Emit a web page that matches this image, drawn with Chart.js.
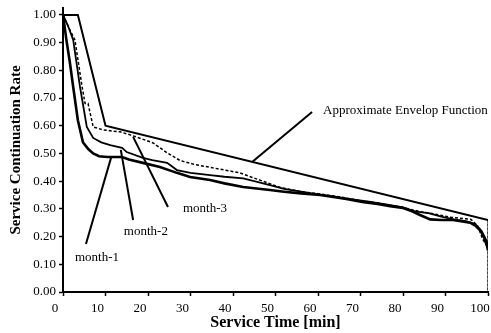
<!DOCTYPE html>
<html>
<head>
<meta charset="utf-8">
<script src="https://cdn.jsdelivr.net/npm/chart.js@4"></script>
<style>
  html, body { margin: 0; padding: 0; background: #fff; }
  canvas { display: block; }
</style>
</head>
<body>
<canvas id="serviceChart" width="491" height="333"></canvas>
<script>
// values (time in min, rate 0..1)
const envelopTime = [0, 3.5, 10, 100, 100];
const envelopRate = [1.0, 1.0, 0.60, 0.26, 0.0];

const month1Time = [0, 0.8, 1.6, 2.4, 3.5, 4.7, 6.0, 7.1, 8.5, 10.4, 13.9, 15.5, 18.8, 22.8, 26.8, 29.9, 34.6, 38, 42.4, 48.7, 52, 56, 60.5, 64, 67, 70.4, 74, 77, 80, 82, 84, 86.4, 89, 91.8, 94, 95.8, 97, 98.1, 99, 99.8, 100];
const month1Rate = [1.0, 0.91, 0.83, 0.74, 0.62, 0.54, 0.515, 0.50, 0.49, 0.487, 0.487, 0.478, 0.466, 0.451, 0.43, 0.415, 0.404, 0.392, 0.379, 0.368, 0.362, 0.356, 0.35, 0.342, 0.335, 0.325, 0.318, 0.31, 0.303, 0.292, 0.278, 0.262, 0.26, 0.26, 0.255, 0.25, 0.24, 0.224, 0.2, 0.165, 0.15];

const month2Time = [0, 1.2, 2.4, 4.0, 5.6, 7.1, 9, 11.1, 13.9, 15, 18.8, 21, 24.5, 26.8, 30, 34.6, 38, 42.4, 48.7, 52, 56, 60, 64, 68, 72, 76, 80, 83, 86, 89, 92, 95, 97, 98.5, 99.5, 100];
const month2Rate = [1.0, 0.96, 0.91, 0.74, 0.596, 0.556, 0.54, 0.53, 0.52, 0.505, 0.484, 0.476, 0.466, 0.44, 0.43, 0.422, 0.416, 0.41, 0.386, 0.372, 0.362, 0.352, 0.344, 0.334, 0.326, 0.316, 0.305, 0.29, 0.285, 0.272, 0.262, 0.255, 0.245, 0.22, 0.19, 0.17];

const month3Time = [0, 1.5, 2.8, 4.5, 5.2, 5.9, 7.1, 9.4, 13.4, 15.8, 18.5, 21.2, 24.5, 27.5, 31, 35.3, 41.6, 47, 51, 56, 60, 65.2, 70, 75, 80, 84, 88, 91, 94, 96, 97.5, 98.8, 100];
const month3Rate = [1.0, 0.95, 0.91, 0.74, 0.68, 0.68, 0.596, 0.585, 0.578, 0.567, 0.553, 0.538, 0.502, 0.475, 0.46, 0.448, 0.43, 0.4, 0.378, 0.362, 0.355, 0.343, 0.33, 0.318, 0.305, 0.29, 0.28, 0.27, 0.265, 0.262, 0.24, 0.19, 0.16];

const yTickValues = [0, 0.1, 0.2, 0.3, 0.4, 0.5, 0.6, 0.7, 0.8, 0.9, 1.0];

// labels with leader lines, in data units
const notes = [
  { text: 'Approximate Envelop Function', x: 61.2, y: 0.653, align: 'left', from: [44.5, 0.469], to: [58.6, 0.65] },
  { text: 'month-1', x: 8.0, y: 0.123, align: 'center', from: [5.4, 0.173], to: [11.3, 0.484] },
  { text: 'month-2', x: 19.5, y: 0.217, align: 'center', from: [16.5, 0.26], to: [13.6, 0.513] },
  { text: 'month-3', x: 33.4, y: 0.30, align: 'center', from: [24.7, 0.307], to: [16.5, 0.56] }
];

const toPoints = (xs, ys) => xs.map((x, i) => ({ x: x, y: ys[i] }));
const serif = 'Liberation Serif, Times New Roman, serif';

// draw the labels + leader lines
const notePlugin = {
  id: 'notes',
  afterDatasetsDraw(chart) {
    const c = chart.ctx;
    const xs = chart.scales.x, ys = chart.scales.y;
    c.save();
    c.strokeStyle = '#000';
    c.lineWidth = 2;
    c.fillStyle = '#000';
    c.font = '13px ' + serif;
    c.textBaseline = 'middle';
    notes.forEach((n) => {
      c.beginPath();
      c.moveTo(xs.getPixelForValue(n.from[0]), ys.getPixelForValue(n.from[1]));
      c.lineTo(xs.getPixelForValue(n.to[0]), ys.getPixelForValue(n.to[1]));
      c.stroke();
      c.textAlign = n.align;
      c.fillText(n.text, xs.getPixelForValue(n.x), ys.getPixelForValue(n.y));
    });
    c.restore();
  }
};

const ctx = document.getElementById('serviceChart');
new Chart(ctx, {
  type: 'scatter',
  data: {
    datasets: [
      {
        label: 'Approximate Envelop Function',
        data: toPoints(envelopTime, envelopRate),
        showLine: true,
        borderColor: '#000',
        borderWidth: 2,
        pointRadius: 0,
        segment: {
          borderDash: (s) => (s.p0DataIndex === envelopTime.length - 2 ? [2, 2] : undefined),
          borderWidth: (s) => (s.p0DataIndex === envelopTime.length - 2 ? 1 : 2)
        }
      },
      {
        label: 'month-1',
        data: toPoints(month1Time, month1Rate),
        showLine: true,
        borderColor: '#000',
        borderWidth: 2.6,
        pointRadius: 0
      },
      {
        label: 'month-2',
        data: toPoints(month2Time, month2Rate),
        showLine: true,
        borderColor: '#000',
        borderWidth: 1.8,
        pointRadius: 0
      },
      {
        label: 'month-3',
        data: toPoints(month3Time, month3Rate),
        showLine: true,
        borderColor: '#000',
        borderWidth: 1.5,
        borderDash: [3, 2],
        pointRadius: 0
      }
    ]
  },
  options: {
    responsive: false,
    animation: false,
    layout: { padding: { top: 8, right: 3, left: 0, bottom: 0 } },
    plugins: {
      legend: { display: false },
      tooltip: { enabled: false }
    },
    scales: {
      x: {
        type: 'linear',
        min: 0,
        max: 100,
        afterFit: (s) => { s.height = 41; s.paddingLeft = 0; s.paddingRight = 0; },
        ticks: {
          stepSize: 10,
          color: '#000',
          padding: 5,
          labelOffset: -8,
          maxRotation: 0,
          font: { family: serif, size: 13 }
        },
        grid: { drawOnChartArea: false, drawTicks: true, tickLength: 4, color: '#000', tickWidth: 1.5 },
        border: { color: '#000', width: 2 },
        title: {
          display: true,
          text: 'Service Time [min]',
          color: '#000',
          font: { family: serif, size: 16, weight: 'bold', lineHeight: 1.0 },
          padding: { top: 0, bottom: 2 }
        }
      },
      y: {
        min: 0,
        max: 1.025,
        afterBuildTicks: (s) => { s.ticks = yTickValues.map((v) => ({ value: v })); },
        afterFit: (s) => { s.width = 63; s.paddingTop = 0; s.paddingBottom = 0; },
        ticks: {
          color: '#000',
          padding: 3,
          font: { family: serif, size: 13 },
          callback: (v) => Number(v).toFixed(2)
        },
        grid: { drawOnChartArea: false, drawTicks: true, tickLength: 4, color: '#000', tickWidth: 1.5 },
        border: { color: '#000', width: 2 },
        title: {
          display: true,
          text: 'Service Continuation Rate',
          color: '#000',
          font: { family: serif, size: 15, weight: 'bold', lineHeight: 1.2 },
          padding: { top: 7, bottom: 0 }
        }
      }
    }
  },
  plugins: [notePlugin]
});
</script>
</body>
</html>
